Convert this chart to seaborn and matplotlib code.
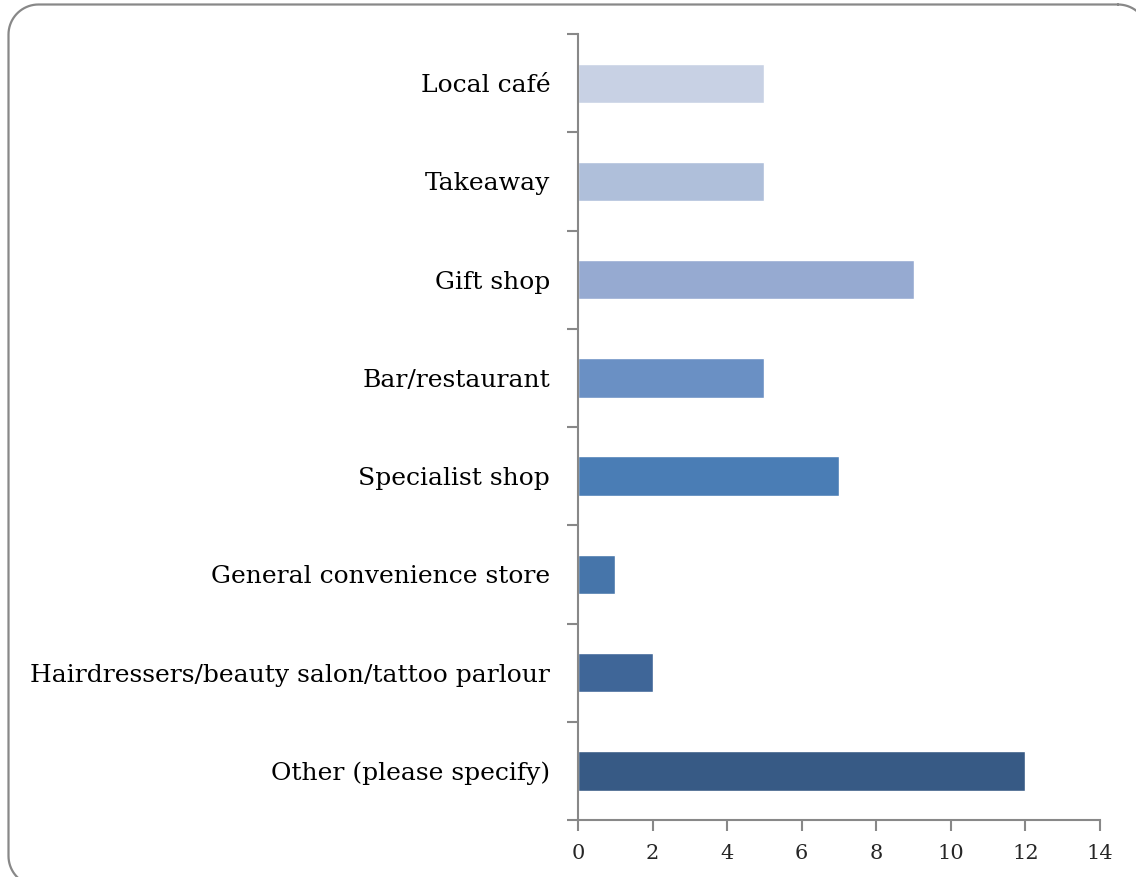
import numpy as np
import pandas as pd
import matplotlib.pyplot as plt
import seaborn as sns

categories = ['Local café', 'Takeaway', 'Gift shop', 'Bar/restaurant',
              'Specialist shop', 'General convenience store',
              'Hairdressers/beauty salon/tattoo parlour', 'Other (please specify)']
values = [5, 5, 9, 5, 7, 1, 2, 12]
colors = ['#C8D1E4', '#AFBFDA', '#96AAD1', '#6A90C4',
          '#4A7DB5', '#4675AA', '#3F6698', '#375A85']
xticks = [0, 2, 4, 6, 8, 10, 12, 14]

df = pd.DataFrame({'category': categories, 'value': values})


def rounded_rect(x0, y0, x1, y1, r, n=20):
    """Polyline outline of a rounded rectangle (pixel units, y down)."""
    corners = [(x1 - r, y0 + r, -90, 0), (x1 - r, y1 - r, 0, 90),
               (x0 + r, y1 - r, 90, 180), (x0 + r, y0 + r, 180, 270)]
    xs, ys = [], []
    for cx, cy, a0, a1 in corners:
        t = np.radians(np.linspace(a0, a1, n))
        xs.extend(cx + r * np.cos(t))
        ys.extend(cy + r * np.sin(t))
    xs.append(xs[0])
    ys.append(ys[0])
    return xs, ys


sns.set_style('white')
plt.rcParams['font.family'] = ['DejaVu Serif']

W, H = 1136, 877
fig = plt.figure(figsize=(W / 100, H / 100), dpi=100)

# background axes in pixel units for the rounded chart border
bg = fig.add_axes([0, 0, 1, 1], zorder=0)
bg.set_xlim(0, W)
bg.set_ylim(H, 0)
bg.axis('off')
fx, fy = rounded_rect(8.5, 4.5, 1148, 886, 30)
bg.plot(fx, fy, color='#888888', linewidth=1.6)

ax = fig.add_axes([0.5088, 0.0650, 0.4595, 0.8962], zorder=1)
ax.patch.set_alpha(0)

sns.barplot(data=df, y='category', x='value', hue='category', palette=colors,
            orient='h', width=0.4, legend=False, saturation=1, ax=ax)

ax.set_xlim(0, 14)
ax.set_ylim(len(categories) - 0.5, -0.5)
ax.set_xticks(xticks)
ax.set_xticklabels([str(t) for t in xticks])
ax.set_xlabel('')
ax.set_ylabel('')

# category boundaries as minor ticks, labels on major ticks without marks
ax.set_yticks(np.arange(-0.5, len(categories)), minor=True)
ax.tick_params(axis='y', which='major', length=0, pad=20, labelsize=18, colors='black')
ax.tick_params(axis='y', which='minor', length=8, width=1.5, color='#888888', left=True)
ax.tick_params(axis='x', which='major', length=8, width=1.5, color='#888888',
               pad=9, labelsize=15, bottom=True)

for side in ['top', 'right']:
    ax.spines[side].set_visible(False)
for side in ['left', 'bottom']:
    ax.spines[side].set_color('#888888')
    ax.spines[side].set_linewidth(1.5)

fig.savefig('out.png', dpi=100, facecolor='white')
